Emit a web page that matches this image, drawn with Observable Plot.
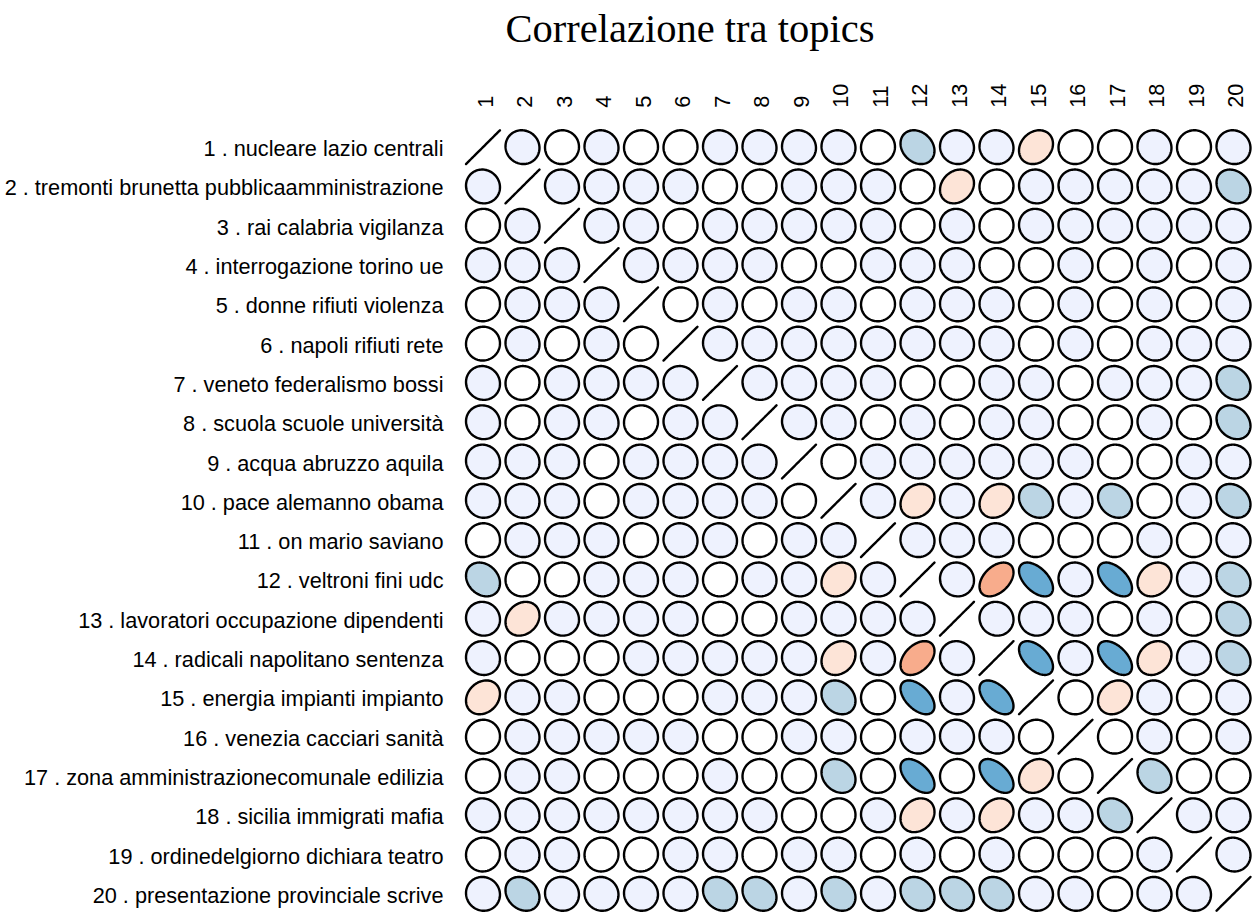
<!DOCTYPE html>
<html>
<head>
<meta charset="utf-8">
<script src="https://cdn.jsdelivr.net/npm/d3@7"></script>
<script src="https://cdn.jsdelivr.net/npm/@observablehq/plot@0.6"></script>
<style>
  html, body { margin: 0; padding: 0; background: #fff; overflow: hidden; }
  #title {
    box-sizing: border-box; width: 1255px; height: 80px;
    padding-top: 9px; padding-left: 125px; text-align: center;
    font-family: "Liberation Serif", "Times New Roman", serif;
    font-size: 40.5px; line-height: 40.5px; color: #000;
  }
  #chart svg { display: block; }
</style>
</head>
<body>
<div id="title">Correlazione tra topics</div>
<div id="chart"></div>
<script>
// Topic labels (rows) and column tick labels
const topicLabels = [
  "1 . nucleare lazio centrali",
  "2 . tremonti brunetta pubblicaamministrazione",
  "3 . rai calabria vigilanza",
  "4 . interrogazione torino ue",
  "5 . donne rifiuti violenza",
  "6 . napoli rifiuti rete",
  "7 . veneto federalismo bossi",
  "8 . scuola scuole università",
  "9 . acqua abruzzo aquila",
  "10 . pace alemanno obama",
  "11 . on mario saviano",
  "12 . veltroni fini udc",
  "13 . lavoratori occupazione dipendenti",
  "14 . radicali napolitano sentenza",
  "15 . energia impianti impianto",
  "16 . venezia cacciari sanità",
  "17 . zona amministrazionecomunale edilizia",
  "18 . sicilia immigrati mafia",
  "19 . ordinedelgiorno dichiara teatro",
  "20 . presentazione provinciale scrive"
];
const colLabels = ["1","2","3","4","5","6","7","8","9","10","11","12","13","14","15","16","17","18","19","20"];

// Estimated correlation matrix (read from the ellipse shapes / colours)
const corr = [
  [ 1.00,-0.05, 0.02,-0.05, 0.02, 0.02,-0.05,-0.05,-0.05,-0.05, 0.02,-0.22,-0.05,-0.05, 0.20, 0.02, 0.02,-0.05, 0.02,-0.05],
  [-0.05, 1.00,-0.05,-0.05,-0.05,-0.05, 0.02, 0.02,-0.05,-0.05,-0.05, 0.02, 0.20, 0.02,-0.05,-0.05,-0.05,-0.05,-0.05,-0.22],
  [ 0.02,-0.05, 1.00,-0.05,-0.05, 0.02,-0.05,-0.05,-0.05,-0.05,-0.05, 0.02,-0.05, 0.02,-0.05,-0.05,-0.05,-0.05,-0.05,-0.05],
  [-0.05,-0.05,-0.05, 1.00,-0.05,-0.05,-0.05,-0.05, 0.02, 0.02,-0.05,-0.05,-0.05, 0.02, 0.02,-0.05, 0.02,-0.05, 0.02,-0.05],
  [ 0.02,-0.05,-0.05,-0.05, 1.00, 0.02,-0.05, 0.02,-0.05,-0.05, 0.02,-0.05,-0.05,-0.05, 0.02,-0.05, 0.02,-0.05, 0.02,-0.05],
  [ 0.02,-0.05, 0.02,-0.05, 0.02, 1.00,-0.05,-0.05,-0.05,-0.05,-0.05,-0.05,-0.05,-0.05, 0.02,-0.05, 0.02,-0.05,-0.05,-0.05],
  [-0.05, 0.02,-0.05,-0.05,-0.05,-0.05, 1.00,-0.05,-0.05,-0.05,-0.05, 0.02, 0.02,-0.05,-0.05, 0.02,-0.05,-0.05,-0.05,-0.22],
  [-0.05, 0.02,-0.05,-0.05, 0.02,-0.05,-0.05, 1.00,-0.05,-0.05, 0.02,-0.05, 0.02,-0.05,-0.05, 0.02, 0.02,-0.05, 0.02,-0.22],
  [-0.05,-0.05,-0.05, 0.02,-0.05,-0.05,-0.05,-0.05, 1.00, 0.02,-0.05,-0.05,-0.05,-0.05,-0.05,-0.05, 0.02, 0.02,-0.05,-0.05],
  [-0.05,-0.05,-0.05, 0.02,-0.05,-0.05,-0.05,-0.05, 0.02, 1.00,-0.05, 0.20,-0.05, 0.20,-0.22,-0.05,-0.22, 0.02,-0.05,-0.22],
  [ 0.02,-0.05,-0.05,-0.05, 0.02,-0.05,-0.05, 0.02,-0.05,-0.05, 1.00,-0.05,-0.05,-0.05, 0.02, 0.02, 0.02,-0.05, 0.02,-0.05],
  [-0.22, 0.02, 0.02,-0.05,-0.05,-0.05, 0.02,-0.05,-0.05, 0.20,-0.05, 1.00,-0.05, 0.42,-0.52,-0.05,-0.52, 0.20,-0.05,-0.22],
  [-0.05, 0.20,-0.05,-0.05,-0.05,-0.05, 0.02, 0.02,-0.05,-0.05,-0.05,-0.05, 1.00,-0.05,-0.05,-0.05, 0.02,-0.05, 0.02,-0.22],
  [-0.05, 0.02, 0.02, 0.02,-0.05,-0.05,-0.05,-0.05,-0.05, 0.20,-0.05, 0.42,-0.05, 1.00,-0.52,-0.05,-0.52, 0.20,-0.05,-0.22],
  [ 0.20,-0.05,-0.05, 0.02, 0.02, 0.02,-0.05,-0.05,-0.05,-0.22, 0.02,-0.52,-0.05,-0.52, 1.00, 0.02, 0.20,-0.05, 0.02,-0.05],
  [ 0.02,-0.05,-0.05,-0.05,-0.05,-0.05, 0.02, 0.02,-0.05,-0.05, 0.02,-0.05,-0.05,-0.05, 0.02, 1.00, 0.02,-0.05, 0.02,-0.05],
  [ 0.02,-0.05,-0.05, 0.02, 0.02, 0.02,-0.05, 0.02, 0.02,-0.22, 0.02,-0.52, 0.02,-0.52, 0.20, 0.02, 1.00,-0.22, 0.02, 0.02],
  [-0.05,-0.05,-0.05,-0.05,-0.05,-0.05,-0.05,-0.05, 0.02, 0.02,-0.05, 0.20,-0.05, 0.20,-0.05,-0.05,-0.22, 1.00,-0.05,-0.05],
  [ 0.02,-0.05,-0.05, 0.02, 0.02,-0.05,-0.05, 0.02,-0.05,-0.05, 0.02,-0.05, 0.02,-0.05, 0.02, 0.02, 0.02,-0.05, 1.00,-0.05],
  [-0.05,-0.22,-0.05,-0.05,-0.05,-0.05,-0.22,-0.22,-0.05,-0.22,-0.05,-0.22,-0.22,-0.22,-0.05,-0.05, 0.02,-0.05,-0.05, 1.00]
];

// Colour classes for the correlation values
const colorThresholds = [-0.35, -0.12, 0, 0.12, 0.35];
const colorRange = ["#68abd3", "#bbd5e4", "#eef2fe", "#ffffff", "#fde4d7", "#f8ac8c"];

// Build ellipse outlines (as in ellipse::plotcorr, t = 0.43, 100 points)
const nPts = 100;
const ellipsePoints = [];
corr.forEach((row, i) => {
  row.forEach((r, j) => {
    const d = Math.acos(Math.max(-1, Math.min(1, r)));
    for (let k = 0; k < nPts; k++) {
      const a = 2 * Math.PI * k / (nPts - 1);
      ellipsePoints.push({
        id: i * 20 + j,
        r,
        x: (j + 1) + 0.43 * Math.cos(a + d / 2),
        y: (i + 1) - 0.43 * Math.cos(a - d / 2)
      });
    }
  });
});

const chart = Plot.plot({
  width: 1255,
  height: 833,
  marginLeft: 462.75,
  marginRight: 2.25,
  marginTop: 47,
  marginBottom: 0,
  x: {domain: [0.5, 20.5], axis: null},
  y: {domain: [0.5, 20.5], reverse: true, axis: null},
  color: {type: "threshold", domain: colorThresholds, range: colorRange},
  style: {fontFamily: "'Liberation Sans', Arial, sans-serif", background: "#fff", color: "#000"},
  marks: [
    Plot.line(ellipsePoints, {
      x: "x", y: "y", z: "id", fill: "r",
      stroke: "#000", strokeWidth: 2.4, strokeLinejoin: "round", curve: "linear"
    }),
    Plot.text(topicLabels, {
      x: () => 0, y: (d, i) => i + 1, text: d => d,
      textAnchor: "end", fontSize: 21.7, dy: 2, fill: "#000"
    }),
    Plot.text(colLabels, {
      x: (d, i) => i + 1, y: () => 0, text: d => d,
      rotate: -90, textAnchor: "start", fontSize: 21.7, dx: 3, fill: "#000"
    })
  ]
});
document.getElementById("chart").appendChild(chart);
</script>
</body>
</html>
